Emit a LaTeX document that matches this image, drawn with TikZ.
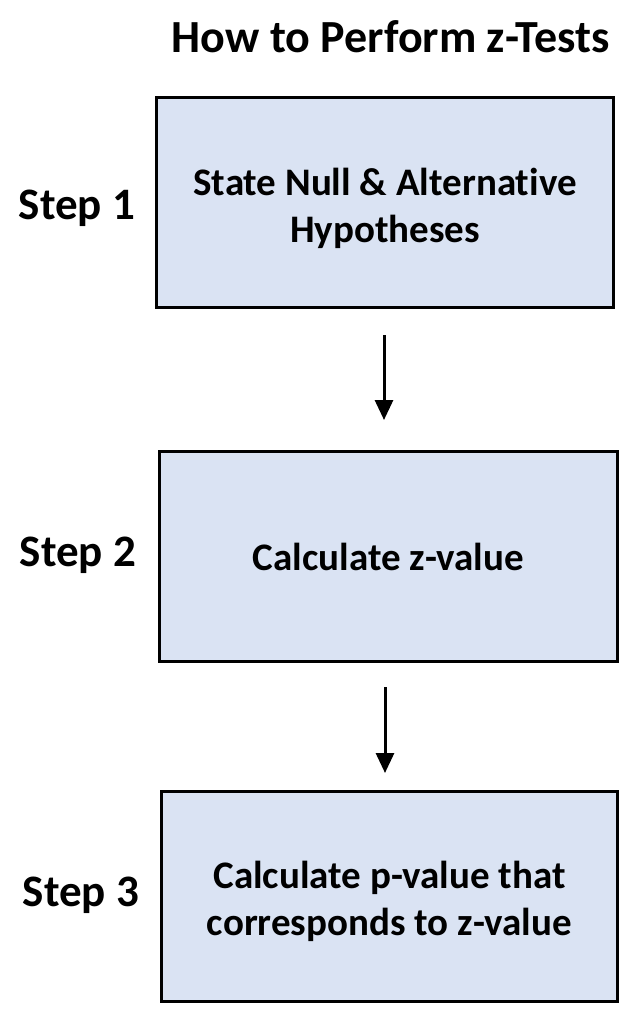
\documentclass[tikz,border=0pt]{standalone}
\usepackage{fontspec}
\setmainfont{Carlito}[Ligatures=NoCommon]
\usetikzlibrary{arrows.meta}
\definecolor{boxfill}{HTML}{DAE3F3}
\begin{document}
\begin{tikzpicture}[x=1pt,y=-1pt,
  stepbox/.style={draw=black,line width=3pt,fill=boxfill,minimum height=210pt,inner sep=0pt},
  boxtext/.style={align=center,inner sep=0pt,font=\fontsize{39}{47}\selectfont\bfseries},
  steplabel/.style={font=\fontsize{45}{50}\selectfont\bfseries,inner sep=0pt},
  arr/.style={line width=3pt,-{Triangle[width=18pt,length=20pt]}}]
\useasboundingbox (0,0) rectangle (644,1026);
\node[font=\fontsize{46}{52}\selectfont\bfseries,inner sep=0pt] (title) at (391,37) {How to Perform z-Tests};
\node[stepbox,minimum width=457pt] (box1) at (385,202.5) {};
\node[stepbox,minimum width=458pt] (box2) at (388.5,556.5) {};
\node[stepbox,minimum width=456pt] (box3) at (389.5,896.5) {};
\node[boxtext] (t1) at ([yshift=-6pt]box1.center) {State Null \& Alternative\\Hypotheses};
\node[boxtext] (t2) at (box2.center) {Calculate z-value};
\node[boxtext] (t3) at ([yshift=-5pt]box3.center) {Calculate p-value that\\corresponds to z-value};
\node[steplabel] (s1) at (77,208) {Step 1};
\node[steplabel] (s2) at (78,555) {Step 2};
\node[steplabel] (s3) at (81,895) {Step 3};
\draw[arr] ([xshift=-1pt,yshift=-26pt]box1.south) -- ([xshift=-4.5pt,yshift=30pt]box2.north);
\draw[arr] ([xshift=-3.5pt,yshift=-24pt]box2.south) -- ([xshift=-4.5pt,yshift=17pt]box3.north);
\end{tikzpicture}
\end{document}
